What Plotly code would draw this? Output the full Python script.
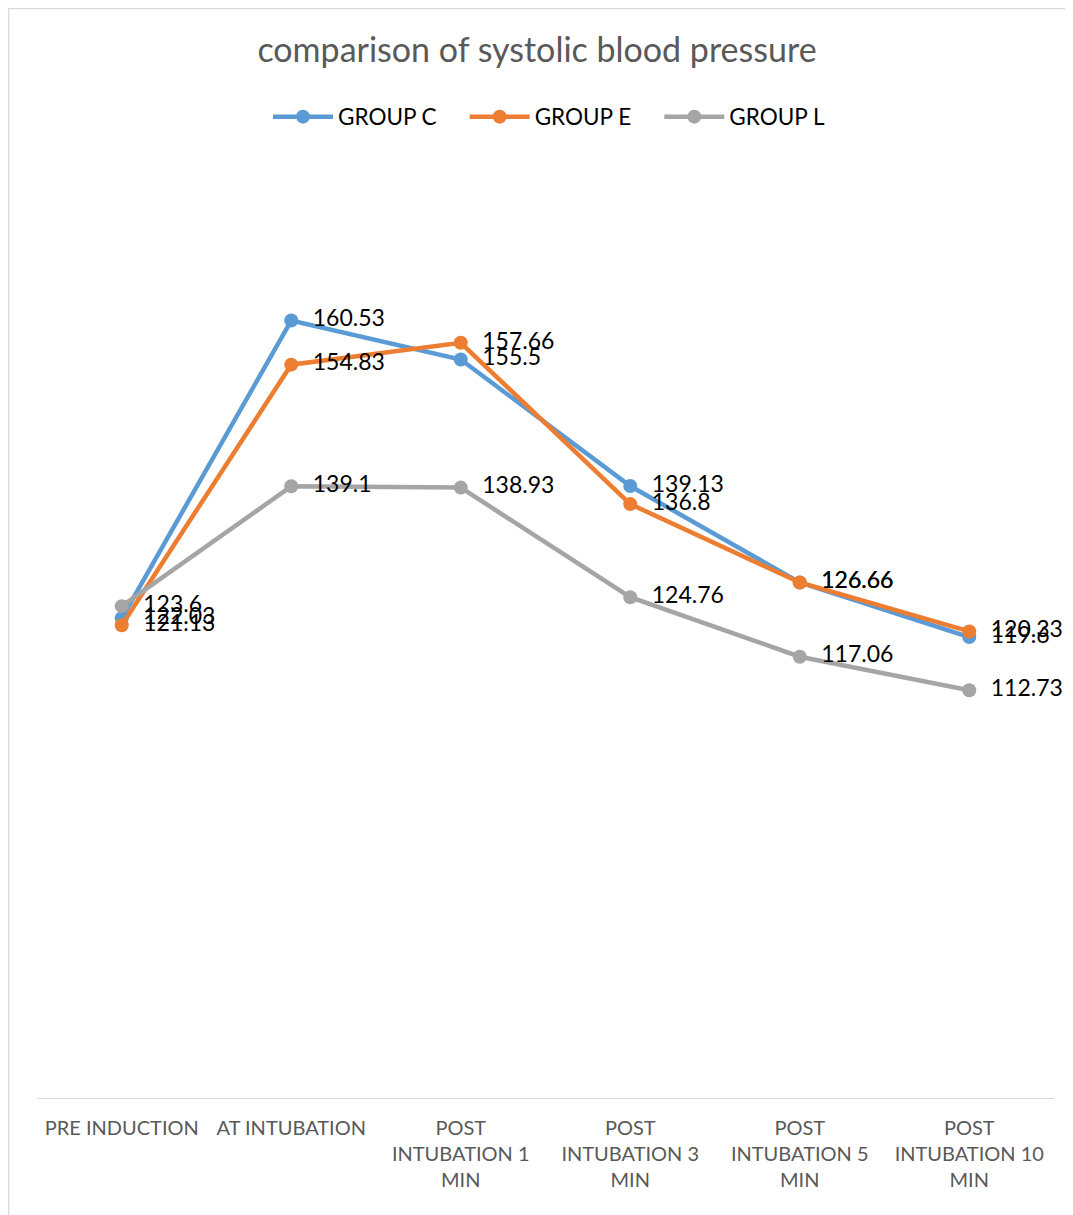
import plotly.graph_objects as go

categories = ["PRE INDUCTION", "AT INTUBATION", "POST<br>INTUBATION 1<br>MIN",
              "POST<br>INTUBATION 3<br>MIN", "POST<br>INTUBATION 5<br>MIN",
              "POST<br>INTUBATION 10<br>MIN"]
group_c = [122.03, 160.53, 155.5, 139.13, 126.66, 119.6]
group_e = [121.13, 154.83, 157.66, 136.8, 126.66, 120.33]
group_l = [123.6, 139.1, 138.93, 124.76, 117.06, 112.73]
series = [("GROUP C", group_c, "#5B9BD5"),
          ("GROUP E", group_e, "#ED7D31"),
          ("GROUP L", group_l, "#A5A5A5")]

FONT = "Lato"
GAP = "\u00a0" * 4
fig = go.Figure()
for i, (name, vals, col) in enumerate(series):
    fig.add_trace(go.Scatter(
        x=categories, y=vals, name=name + (GAP if i < len(series) - 1 else ""),
        mode="lines+markers+text",
        line=dict(color=col, width=4.5),
        marker=dict(color=col, size=14),
        text=["\u00a0\u00a0" + f"{v:g}" for v in vals], textposition="middle right",
        textfont=dict(family=FONT, size=23, color="#000000"),
        cliponaxis=False,
    ))

OFF = 8  # page body margin
W, H = 1073 - OFF, 1215 - OFF
ml, mr, mt, mb = 37 - OFF, 19, 170 - OFF, 117
pw, ph = W - ml - mr, H - mt - mb

fig.update_layout(
    width=W, height=H,
    margin=dict(l=ml, r=mr, t=mt, b=mb),
    paper_bgcolor="white", plot_bgcolor="white",
    title=dict(text="comparison of systolic blood pressure", x=(537 - OFF) / W, xanchor="center",
               y=1 - (50 - OFF) / H, yanchor="middle",
               font=dict(family=FONT, size=34, color="#595959")),
    legend=dict(orientation="h", x=(549 - OFF - ml) / pw, xanchor="center",
                y=1 + (mt - (117 - OFF)) / ph,
                yanchor="middle", font=dict(family=FONT, size=22.5, color="#000000"),
                itemwidth=60, traceorder="normal"),
    showlegend=True,
    xaxis=dict(showgrid=False, showline=True, linecolor="#D9D9D9", linewidth=1,
               ticks="", ticklabelstandoff=12,
               tickfont=dict(family=FONT, size=20, color="#595959"),
               range=[-0.5, 5.5], fixedrange=True),
    yaxis=dict(range=[60, 180], visible=False, showgrid=False, zeroline=False),
    shapes=[dict(type="rect", xref="paper", yref="paper",
                 x0=(0.5 - ml) / pw, x1=(W + 20 - ml) / pw,
                 y0=-(H + 20 - mt - ph) / ph, y1=1 + (mt - 0.5) / ph,
                 line=dict(color="#D9D9D9", width=1.5), fillcolor="rgba(0,0,0,0)")],
)
fig.write_html("out.html")
